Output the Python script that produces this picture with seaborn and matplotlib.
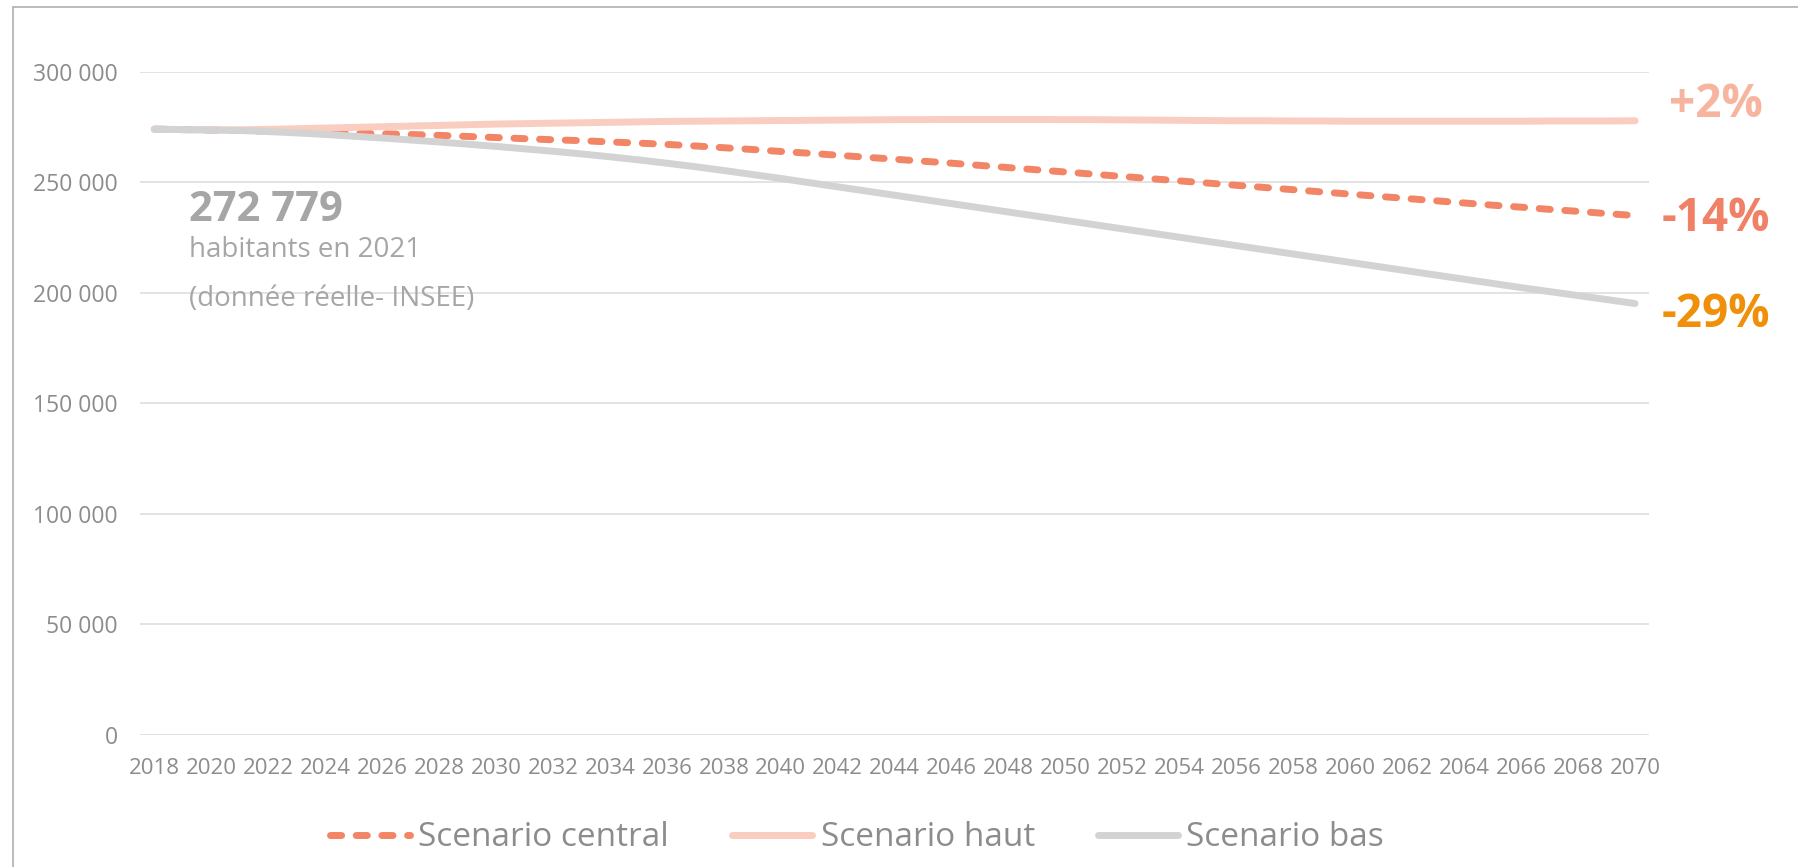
import pandas as pd
import matplotlib
matplotlib.use("Agg")
import matplotlib.pyplot as plt
from matplotlib.lines import Line2D
from matplotlib.ticker import FuncFormatter
import seaborn as sns

# Projection de population 2018-2070, trois scenarios
years = list(range(2018, 2071))

central = [
    274000, 273800, 273600, 273400, 273100, 272800, 272500, 272200, 271900, 271600,  # 2018-2027
    271200, 270700, 270200, 269700, 269200, 268800, 268200, 267700, 267100, 266400,  # 2028-2037
    265600, 264800, 263900, 263100, 262200, 261300, 260400, 259500, 258600, 257600,  # 2038-2047
    256600, 255600, 254600, 253600, 252600, 251600, 250600, 249600, 248600, 247600,  # 2048-2057
    246600, 245600, 244600, 243600, 242600, 241600, 240600, 239600, 238700, 237700,  # 2058-2067
    236800, 235800, 234900,                                                          # 2068-2070
]
haut = [
    274000, 273800, 273700, 273700, 273900, 274200, 274500, 274800, 275100, 275400,
    275700, 276000, 276300, 276500, 276700, 276900, 277100, 277300, 277500, 277600,
    277700, 277800, 277900, 278000, 278100, 278200, 278300, 278300, 278400, 278400,
    278400, 278400, 278300, 278300, 278200, 278100, 278000, 277900, 277800, 277800,
    277700, 277700, 277600, 277600, 277600, 277600, 277600, 277600, 277600, 277700,
    277700, 277700, 277800,
]
bas = [
    274000, 273800, 273600, 273400, 272900, 272300, 271600, 270800, 270000, 269100,
    268200, 267200, 266200, 265100, 264000, 262800, 261500, 260100, 258600, 257000,
    255300, 253500, 251700, 249800, 247900, 246000, 244100, 242200, 240300, 238400,
    236500, 234600, 232700, 230800, 228900, 227000, 225100, 223200, 221300, 219400,
    217500, 215600, 213700, 211800, 209900, 208000, 206100, 204200, 202300, 200500,
    198700, 196900, 195100,
]

scenarios = ["Scenario central", "Scenario haut", "Scenario bas"]
colors = {"Scenario central": "#F28565", "Scenario haut": "#F9CDBF", "Scenario bas": "#D3D3D3"}
pct_labels = ["+2%", "-14%", "-29%"]
pct_colors = ["#F7B49E", "#F08066", "#F0900A"]
ref_value = "272 779"
ref_lines = ["habitants en 2021", "(donnée réelle- INSEE)"]

df = pd.DataFrame({
    "annee": years * 3,
    "population": central + haut + bas,
    "scenario": [s for s in scenarios for _ in years],
})

sns.set_theme(style="white")
plt.rcParams["font.family"] = ["Open Sans", "DejaVu Sans"]

tick_col = "#8C8C8C"
fig = plt.figure(figsize=(17.98, 8.67), dpi=100)
ax = fig.add_axes([0.0779, 0.1526, 0.8394, 0.7647])

sns.lineplot(
    data=df, x="annee", y="population", hue="scenario", style="scenario",
    hue_order=scenarios, style_order=scenarios, palette=colors,
    dashes={"Scenario central": (1.6, 2.1), "Scenario haut": "", "Scenario bas": ""},
    linewidth=5, legend=False, ax=ax,
    solid_capstyle="round", dash_capstyle="round",
)

ax.set_xlim(2017.5, 2070.5)
ax.set_ylim(0, 300000)
ax.set_xticks(years[::2])
ax.set_yticks(range(0, 300001, 50000))
ax.yaxis.set_major_formatter(FuncFormatter(lambda v, p: f"{int(v):,}".replace(",", " ")))
ax.grid(axis="y", color="#E0E0E0", linewidth=1.3)
ax.grid(axis="x", visible=False)
for s in ax.spines.values():
    s.set_visible(False)
ax.tick_params(axis="both", length=0, labelcolor=tick_col)
ax.tick_params(axis="x", labelsize=16, pad=17)
ax.tick_params(axis="y", labelsize=16.5, pad=16)
ax.set_xlabel("")
ax.set_ylabel("")

# annotation valeur 2021
ax.text(0.0325, 0.791, ref_value, transform=ax.transAxes, fontsize=30,
        fontweight="bold", color="#A6A6A6", va="center", ha="left")
ax.text(0.0325, 0.731, ref_lines[0], transform=ax.transAxes, fontsize=20,
        color="#A6A6A6", va="center", ha="left")
ax.text(0.0325, 0.657, ref_lines[1], transform=ax.transAxes, fontsize=20,
        color="#A6A6A6", va="center", ha="left")

# variations 2070
for lab, col, yy in zip(pct_labels, pct_colors, [0.950, 0.779, 0.634]):
    ax.text(1.044, yy, lab, transform=ax.transAxes, fontsize=33,
            fontweight="bold", color=col, va="center", ha="center")

handles = [Line2D([], [], color=l.get_color(), linestyle=l.get_linestyle(),
                  linewidth=5, dashes=(1.6, 2.1) if i == 0 else (None, None),
                  solid_capstyle="round", dash_capstyle="round")
           for i, l in enumerate(ax.lines[:3])]
leg = fig.legend(handles, scenarios, loc="center", bbox_to_anchor=(857 / 1798, 1 - 838 / 867),
                 ncol=3, frameon=False, fontsize=24, handlelength=2.4,
                 handletextpad=0.25, columnspacing=1.9)
for t in leg.get_texts():
    t.set_color(tick_col)

# cadre (bords gauche et haut)
fig.add_artist(Line2D([12.5 / 1798, 12.5 / 1798], [0, 1 - 6.5 / 867],
                      transform=fig.transFigure, color="#B0B0B0", linewidth=1.2))
fig.add_artist(Line2D([12.5 / 1798, 1], [1 - 6.5 / 867, 1 - 6.5 / 867],
                      transform=fig.transFigure, color="#B0B0B0", linewidth=1.2))

fig.savefig("out.png", dpi=100, facecolor="white")
